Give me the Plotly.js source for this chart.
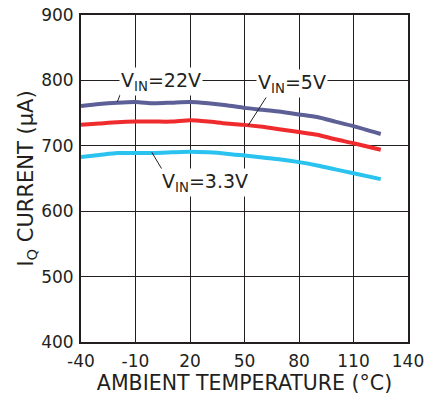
<!DOCTYPE html>
<html><head><meta charset="utf-8">
<script src="https://cdn.plot.ly/plotly-3.0.1.min.js"></script>
<style>html,body{margin:0;padding:0;background:#fff}#c{width:432px;height:399px}</style>
</head><body><div id="c"></div>
<script>
const temps = [-40,-30,-20,-10,0,10,20,30,40,50,60,70,80,90,100,110,125];
const vin22 = [761,764,766,767,765,766,767,765,762,758,755,752,748,744,737,730,718];
const vin5  = [732,734,736,737,737,737,739,737,734,732,729,725,721,717,710,704,694];
const vin33 = [683,686,689,689,689,690,691,690,688,685,682,679,675,670,664,658,649];
const xTicks = [-40,-10,20,50,80,110,140];
const yTicks = [400,500,600,700,800,900];
const seriesNames = ['V<sub>IN</sub>=22V','V<sub>IN</sub>=5V','V<sub>IN</sub>=3.3V'];
const colors = ['#5d6096','#ef2b2d','#2ac2ee'];
const labelPos = [[4,799],[76,795],[28,644]];
const leaderEnd = [[-20,767],[52,731],[-1,690]];
const leaderStart = [[-17,789],[64,783],[5,662]];

const font = {family:'DejaVu Sans, sans-serif', color:'#231f20'};
const data = [vin22, vin5, vin33].map((ys,i)=>({
  x: temps, y: ys, type:'scatter', mode:'lines', name: seriesNames[i],
  line:{color:colors[i], width:4, shape:'spline', smoothing:0.6}, hoverinfo:'skip'
}));
const shapes = leaderStart.map((s,i)=>({type:'line', xref:'x', yref:'y',
  x0:s[0], y0:s[1], x1:leaderEnd[i][0], y1:leaderEnd[i][1], line:{color:'#231f20', width:1}}));
const annotations = labelPos.map((p,i)=>({x:p[0], y:p[1], xref:'x', yref:'y', text:seriesNames[i],
  showarrow:false, bgcolor:'#fff', borderpad:1, font:{...font, size:19}}));
const axisBase = {showline:true, linecolor:'#231f20', linewidth:2, mirror:true, showgrid:true,
  gridcolor:'#231f20', gridwidth:1, zeroline:false, ticks:'outside', tickcolor:'rgba(0,0,0,0)',
  tickfont:{...font, size:17}};
const layout = {
  width:432, height:399, margin:{l:81, r:24, t:15, b:57}, paper_bgcolor:'#fff', plot_bgcolor:'#fff',
  showlegend:false, font:font, shapes:shapes, annotations:annotations,
  xaxis:{...axisBase, ticklen:3, range:[-40,140], tickvals:xTicks, ticktext:xTicks.map(String),
    title:{text:'AMBIENT TEMPERATURE (°C)', font:{...font, size:20.5}, standoff:3}},
  yaxis:{...axisBase, ticklen:2, range:[400,900], tickvals:yTicks, ticktext:yTicks.map(String),
    title:{text:'I<sub>Q</sub> CURRENT (µA)', font:{...font, size:21}, standoff:2}}
};
Plotly.newPlot('c', data, layout, {staticPlot:true, displayModeBar:false});
</script></body></html>
